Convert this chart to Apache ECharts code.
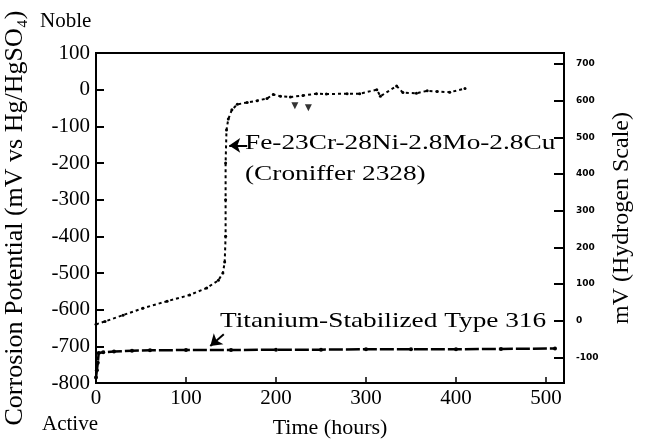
<!DOCTYPE html>
<html><head><meta charset="utf-8">
<script src="https://cdn.jsdelivr.net/npm/echarts@6/dist/echarts.min.js"></script>
<style>html,body{margin:0;padding:0;background:#fff}#c{width:648px;height:443px}</style>
</head><body><div id="c"></div>
<script>
// Croniffer 2328 (Fe-23Cr-28Ni-2.8Mo-2.8Cu): time (h) vs potential (mV vs Hg/HgSO4)
var cronTime = [0, 10, 30, 52, 79, 104, 123, 136, 141, 143, 144, 144, 144, 145, 147, 151, 157, 168, 179, 190, 197, 205, 216, 230, 245, 256, 279, 293, 312, 316, 334, 341, 356, 368, 379, 393, 410];
var cronMv   = [-640, -632, -615, -596, -577, -560, -541, -520, -500, -470, -400, -300, -200, -110, -80, -55, -40, -35, -30, -24, -13, -18, -20, -16, -11, -12, -11, -11, 0, -18, 10, -8, -10, -3, -5, -7, 3];
// Croniffer stray readings below the curve
var cronOutTime = [221, 236];
var cronOutMv   = [-44, -49];
// Titanium-stabilized Type 316
var tiTime = [0, 1, 2, 3, 8, 20, 40, 60, 100, 150, 200, 250, 300, 350, 400, 450, 510];
var tiMv   = [-785, -765, -745, -718, -716, -714, -712, -711, -710, -710, -709, -709, -708, -708, -708, -707, -706];
// axes
var xTicks = [0, 100, 200, 300, 400, 500];
var hydrogenOffset = 630; // mV added to Hg/HgSO4 scale to give hydrogen scale

function pairs(a, b) { return a.map(function (v, i) { return [v, b[i]]; }); }

var FONT = 'Liberation Serif';
var chart = echarts.init(document.getElementById('c'), null, {renderer: 'canvas'});
chart.setOption({
  animation: false,
  backgroundColor: '#fff',
  grid: {left: 96, right: 84, top: 53, bottom: 60, outerBoundsMode: 'none', containLabel: false,
    show: true, borderColor: '#000', borderWidth: 2, backgroundColor: 'transparent'},
  xAxis: {
    type: 'value', min: 0, max: 520, interval: 100,
    name: 'Time (hours)', nameLocation: 'middle', nameGap: 34,
    nameTextStyle: {fontFamily: FONT, fontSize: 22, color: '#000'},
    axisLine: {onZero: false, lineStyle: {color: '#000', width: 2}},
    axisTick: {inside: true, length: 6, lineStyle: {color: '#000', width: 1.5}},
    axisLabel: {margin: 5, fontFamily: FONT, fontSize: 21, color: '#000',
      formatter: function (v) { return xTicks.indexOf(v) >= 0 ? String(v) : ''; }},
    splitLine: {show: false}
  },
  yAxis: [{
    type: 'value', min: -800, max: 100, interval: 100, position: 'left',
    name: 'Corrosion Potential (mV vs Hg/HgSO\u2084)', nameLocation: 'middle', nameRotate: 90, nameGap: 68,
    nameTextStyle: {fontFamily: FONT, fontSize: 26, color: '#000'},
    axisLine: {onZero: false, lineStyle: {color: '#000', width: 2}},
    axisTick: {inside: true, length: 8, lineStyle: {color: '#000', width: 2}},
    axisLabel: {margin: 6, fontFamily: FONT, fontSize: 21, color: '#000'},
    splitLine: {show: false}
  }, {
    type: 'value', min: -800 + hydrogenOffset, max: 100 + hydrogenOffset, splitNumber: 9, position: 'right',
    name: 'mV (Hydrogen Scale)', nameLocation: 'middle', nameRotate: 90, nameGap: 46,
    nameTextStyle: {fontFamily: FONT, fontSize: 24, color: '#000'},
    axisLine: {onZero: false, lineStyle: {color: '#000', width: 2}},
    axisTick: {inside: true, length: 10, lineStyle: {color: '#000', width: 2}},
    axisLabel: {margin: 12, fontFamily: 'DejaVu Sans', fontSize: 9, fontWeight: 'bold', color: '#000',
      formatter: function (v) { return v % 100 === 0 ? String(v) : ''; }},
    splitLine: {show: false}
  }],
  series: [{
    name: 'Croniffer 2328', type: 'line', data: pairs(cronTime, cronMv),
    symbol: 'circle', symbolSize: 3, showSymbol: true,
    lineStyle: {color: '#000', width: 2, type: [3, 3]}, itemStyle: {color: '#000'},
    markLine: {silent: true, symbol: ['none', 'arrow'], symbolSize: 11, label: {show: false},
      lineStyle: {color: '#000', width: 2, type: 'solid'},
      data: [[{coord: [168, -152]}, {coord: [148, -152]}], [{coord: [142, -667]}, {coord: [127, -699]}]]}
  }, {
    name: 'Croniffer stray', type: 'scatter', data: pairs(cronOutTime, cronOutMv),
    symbol: 'triangle', symbolRotate: 180, symbolSize: 7, itemStyle: {color: '#000'}
  }, {
    name: 'Titanium-Stabilized Type 316', type: 'line', data: pairs(tiTime, tiMv),
    symbol: 'circle', symbolSize: 4, showSymbol: true,
    lineStyle: {color: '#000', width: 2.5, type: [14, 3]}, itemStyle: {color: '#000'}
  }],
  graphic: [
    {type: 'text', left: 40, top: 11, style: {text: 'Noble', font: '21px "Liberation Serif"', fill: '#000'}},
    {type: 'text', left: 42, top: 414, style: {text: 'Active', font: '21px "Liberation Serif"', fill: '#000'}},
    {type: 'text', x: 245, y: 133, scaleX: 1.3, style: {text: 'Fe-23Cr-28Ni-2.8Mo-2.8Cu', font: '21px "Liberation Serif"', fill: '#000'}},
    {type: 'text', x: 245, y: 164, scaleX: 1.3, style: {text: '(Croniffer 2328)', font: '21px "Liberation Serif"', fill: '#000'}},
    {type: 'text', x: 220, y: 311, scaleX: 1.3, style: {text: 'Titanium-Stabilized Type 316', font: '21px "Liberation Serif"', fill: '#000'}}
  ]
});
</script></body></html>
